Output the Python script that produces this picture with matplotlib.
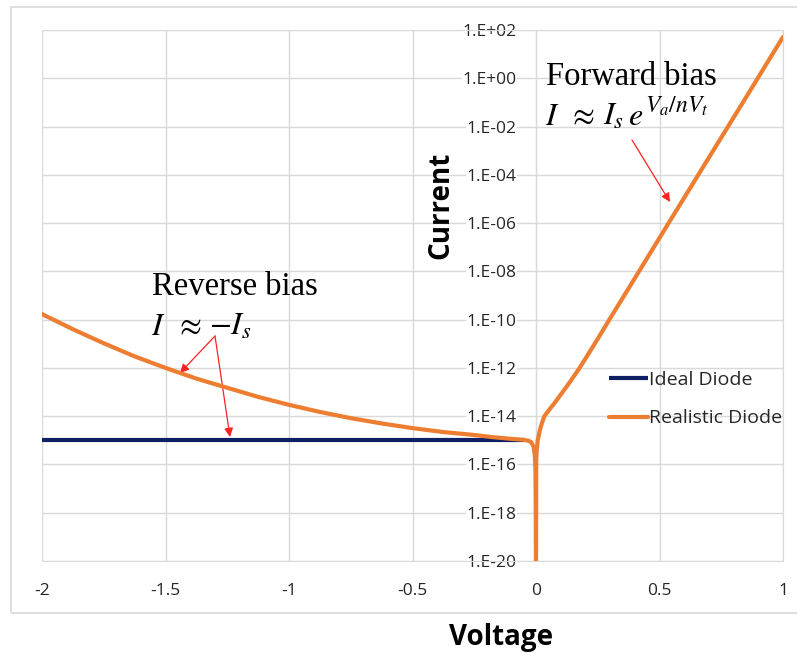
import numpy as np
import matplotlib
matplotlib.use("Agg")
import matplotlib.pyplot as plt
from matplotlib.patches import Rectangle
from matplotlib.ticker import FixedLocator

# values (|I| in A, log axis)
ideal_v = [-2.0, -1.5, -1.0, -0.5, -0.25, -0.1, -0.05]
ideal_i = [1.0e-15, 1.0e-15, 1.0e-15, 1.0e-15, 1.0e-15, 1.0e-15, 1.0e-15]

real_v = [-2.0, -1.875, -1.75, -1.625, -1.5, -1.375, -1.25, -1.125, -1.0, -0.875,
          -0.75, -0.625, -0.5, -0.375, -0.25, -0.175, -0.1, -0.05,
          -0.03, -0.02, -0.01, -0.005, -0.002, -0.001, 0.0,
          0.001, 0.003, 0.007, 0.015, 0.025, 0.034, 0.05, 0.075, 0.1, 0.125,
          0.15, 0.175, 0.2, 0.25, 0.297, 0.35, 0.411, 0.526, 0.641,
          0.75, 0.85, 0.9, 0.95, 1.0]
real_i = [1.7e-10, 4.0e-11, 1.05e-11, 3.0e-12, 1.0e-12, 3.6e-13, 1.5e-13, 6.3e-14, 2.95e-14, 1.5e-14,
          8.3e-15, 5.0e-15, 3.2e-15, 2.2e-15, 1.66e-15, 1.35e-15, 1.15e-15, 1.05e-15,
          9.5e-16, 8.5e-16, 5.5e-16, 2.5e-16, 5.0e-17, 1.0e-18, 1.0e-21,
          1.6e-16, 4.0e-16, 1.0e-15, 2.5e-15, 5.6e-15, 1.0e-14, 1.66e-14, 3.5e-14, 7.8e-14, 1.74e-13,
          4.0e-13, 9.5e-13, 2.4e-12, 1.6e-11, 1.0e-10, 7.6e-10, 7.9e-9, 6.6e-7, 5.4e-5,
          3.5e-3, 1.6e-1, 1.1e+0, 7.6e+0, 5.1e+1]

x_ticks = [-2, -1.5, -1, -0.5, 0, 0.5, 1]
x_tick_labels = ["-2", "-1.5", "-1", "-0.5", "0", "0.5", "1"]
y_ticks = [1e-20, 1e-18, 1e-16, 1e-14, 1e-12, 1e-10, 1e-8, 1e-6, 1e-4, 1e-2, 1e0, 1e2]
y_tick_labels = ["1.E-20", "1.E-18", "1.E-16", "1.E-14", "1.E-12", "1.E-10",
                 "1.E-08", "1.E-06", "1.E-04", "1.E-02", "1.E+00", "1.E+02"]

W, H = 797, 653
BLUE = "#0E1F66"
ORANGE = "#ED7D31"
GRID = "#D9D9D9"
SANS = ["Open Sans", "DejaVu Sans"]
SERIF = ["Liberation Serif", "DejaVu Serif"]

plt.rcParams["font.family"] = SANS
plt.rcParams["mathtext.fontset"] = "stix"


def px(x, y):
    # reference pixel -> figure fraction
    return x / W, 1 - y / H


fig = plt.figure(figsize=(W / 100, H / 100), dpi=100)
ax = fig.add_axes([42 / W, 1 - 561 / H, 741 / W, 531 / H])

ax.plot(ideal_v, ideal_i, color=BLUE, lw=3, solid_capstyle="butt", label="Ideal Diode", zorder=3)
ax.plot(real_v, real_i, color=ORANGE, lw=3, solid_capstyle="round", solid_joinstyle="round",
        label="Realistic Diode", zorder=4)

ax.set_yscale("log")
ax.set_xlim(-2, 1)
ax.set_ylim(1e-20, 1e2)
ax.set_xticks(x_ticks)
ax.set_xticklabels(x_tick_labels)
ax.yaxis.set_major_locator(FixedLocator(y_ticks))
ax.yaxis.set_minor_locator(FixedLocator([]))
ax.set_yticklabels(y_tick_labels)
ax.grid(True, color=GRID, lw=1)
ax.set_axisbelow(True)

for s in ["top", "right", "bottom"]:
    ax.spines[s].set_color(GRID)
ax.spines["left"].set_position(("data", 0))
ax.spines["left"].set_color(GRID)
ax.tick_params(axis="y", length=0, pad=14, labelsize=12.5, colors="#262626")
ax.tick_params(axis="x", length=0, pad=16, labelsize=12.5, colors="#262626")
for lab in ax.get_yticklabels():
    lab.set_bbox(dict(facecolor="white", edgecolor="none", pad=0.5))

leg = ax.legend(loc="upper left", bbox_to_anchor=px(609, 371), bbox_transform=fig.transFigure,
                frameon=False, fontsize=14, handlelength=2.0, handletextpad=0.05,
                labelspacing=1.05, borderpad=0, borderaxespad=0)
for t in leg.get_texts():
    t.set_color("#262626")

fig.text(*px(441, 205), "Current", rotation=90, ha="center", va="center",
         fontsize=20, fontweight="bold")
fig.text(*px(501, 637), "Voltage", ha="center", va="center",
         fontsize=20, fontweight="bold")

# annotation texts, equations set piece by piece to follow the wide spacing
fig.text(*px(546, 85), "Forward bias", family=SERIF, fontsize=23.5, va="baseline")
fig.text(*px(545, 125), r"$I$", fontsize=23, va="baseline")
fig.text(*px(568, 125), r"$\approx$", fontsize=23, va="baseline")
fig.text(*px(603, 125), r"$I_s$", fontsize=23, va="baseline")
fig.text(*px(628, 125), r"$e$", fontsize=23, va="baseline")
fig.text(*px(645, 113), r"$V_a/nV_t$", fontsize=17, va="baseline")

fig.text(*px(152, 295), "Reverse bias", family=SERIF, fontsize=23.5, va="baseline")
fig.text(*px(151, 335), r"$I$", fontsize=23, va="baseline")
fig.text(*px(175, 335), r"$\approx$", fontsize=23, va="baseline")
fig.text(*px(209, 335), r"$-I_s$", fontsize=23, va="baseline")

arrow = dict(arrowstyle="-|>", color="#FF2020", lw=0.9, mutation_scale=13, shrinkA=0, shrinkB=0)
ax.annotate("", xy=px(670, 202), xycoords="figure fraction",
            xytext=px(632, 140), textcoords="figure fraction", arrowprops=arrow)
ax.annotate("", xy=px(180, 373), xycoords="figure fraction",
            xytext=px(215, 336), textcoords="figure fraction", arrowprops=arrow)
ax.annotate("", xy=px(230, 437), xycoords="figure fraction",
            xytext=px(215, 336), textcoords="figure fraction", arrowprops=arrow)

fig.patches.append(Rectangle(px(11, 613), 800 / W, 606 / H, transform=fig.transFigure,
                             fill=False, edgecolor=GRID, lw=1.2))

fig.savefig("out.png", dpi=100)
